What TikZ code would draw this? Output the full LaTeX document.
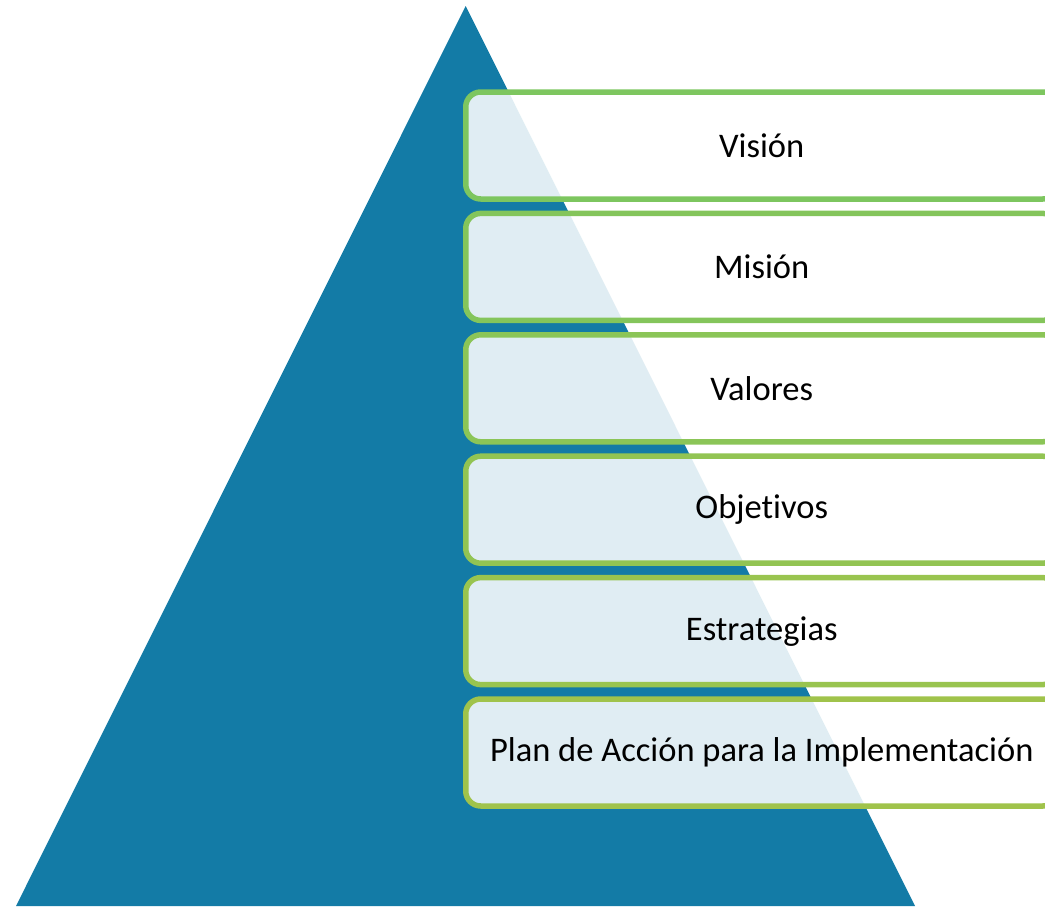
\documentclass[tikz,border=0pt]{standalone}
\usepackage{fontspec}
\setmainfont{Carlito}[Ligatures=NoCommon]
\definecolor{pyramid}{RGB}{19,123,166}
\definecolor{edgetop}{RGB}{125,198,95}
\definecolor{edgebot}{RGB}{160,195,75}
\tikzset{layerbox/.style={draw=#1, line width=5.5pt, rounded corners=15pt,
  fill=white, fill opacity=0.87, text opacity=1, text=black,
  minimum width=592pt, minimum height=107pt, inner sep=0pt,
  font=\fontsize{34.5}{40}\selectfont}}
\begin{document}
\begin{tikzpicture}[x=1pt, y=-1pt, line join=round]
      \useasboundingbox (0,0) rectangle (1045,906);
      \clip (0,0) rectangle (1045,906);
      % pyramid
      \fill [pyramid] (465.7,6) -- (915,906) -- (16,906) -- cycle;
      % layers
      \foreach \i/\lbl [evaluate={\ypos=145.5+\i*121.4; \p=int(\i*20);}] in
        {0/Visión, 1/Misión, 2/Valores, 3/Objetivos, 4/Estrategias,
         5/Plan de Acción para la Implementación}
        \node [layerbox=edgebot!\p!edgetop] (layer\i) at (761.75,\ypos) {\lbl};
\end{tikzpicture}
\end{document}
